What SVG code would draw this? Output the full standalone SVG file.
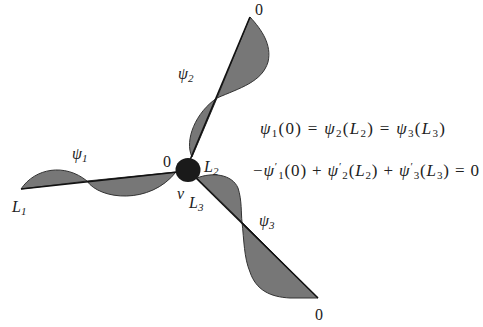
<svg xmlns="http://www.w3.org/2000/svg" width="483" height="327" viewBox="0 0 483 327">
<style>
.lobe{fill:#777;stroke:#333;stroke-width:1}
.edge{stroke:#111;stroke-width:1.6;fill:none}
.t{font-family:"Liberation Serif","DejaVu Serif",serif;font-size:16px;fill:#222}
.eq{font-size:17px}
.i{font-style:italic}
.s{font-size:11px}
</style>
<rect width="483" height="327" fill="#fff"/>
<g id="wave1">
<path class="lobe" d="M21,189 C35,168 65,163 87,181 Z"/>
<path class="lobe" d="M87,181 C100,200 150,205 176,172 Z"/>
</g>
<g id="wave2">
<path class="lobe" d="M192,157 C184,140 196,112 217,98 Z"/>
<path class="lobe" d="M217,98 C240,88 262,82 268,62 C272,45 262,30 250,17 Z"/>
</g>
<g id="wave3">
<path class="lobe" d="M197,178 C212,172 232,174 238,188 C242,200 241,214 242,222 Z"/>
<path class="lobe" d="M242,222 C244,240 244,258 250,272 C256,290 270,297 290,298 L318,298 Z"/>
</g>
<g id="connectors">
<line class="edge" x1="21" y1="189" x2="178" y2="172"/>
<line class="edge" x1="250" y1="17" x2="190" y2="160"/>
<line class="edge" x1="195" y1="177" x2="318" y2="298"/>
</g>
<g id="vertex">
<ellipse cx="188" cy="170" rx="12.5" ry="12" fill="#1a1a1a"/>
</g>
<g id="labels">
<text class="t" x="255" y="15">0</text>
<text class="t" x="163" y="167">0</text>
<text class="t" x="315" y="320">0</text>
<text class="t i" x="178" y="79">ψ<tspan class="s" dy="3">2</tspan></text>
<text class="t i" x="72" y="159">ψ<tspan class="s" dy="3">1</tspan></text>
<text class="t i" x="259" y="226">ψ<tspan class="s" dy="3">3</tspan></text>
<text class="t i" x="12" y="212">L<tspan class="s" dy="3">1</tspan></text>
<text class="t i" x="204" y="172">L<tspan class="s" dy="3">2</tspan></text>
<text class="t i" x="177" y="199">v</text>
<text class="t i" x="189" y="208">L<tspan class="s" dy="3">3</tspan></text>
<text class="t eq" x="260" y="134" textLength="185" lengthAdjust="spacing"><tspan class="i">ψ</tspan><tspan class="s" dy="3">1</tspan><tspan dy="-3">(0) = </tspan><tspan class="i">ψ</tspan><tspan class="s" dy="3">2</tspan><tspan dy="-3">(</tspan><tspan class="i">L</tspan><tspan class="s" dy="3">2</tspan><tspan dy="-3">) = </tspan><tspan class="i">ψ</tspan><tspan class="s" dy="3">3</tspan><tspan dy="-3">(</tspan><tspan class="i">L</tspan><tspan class="s" dy="3">3</tspan><tspan dy="-3">)</tspan></text>
<text class="t eq" x="253" y="176" textLength="226" lengthAdjust="spacing">−<tspan class="i">ψ</tspan><tspan class="s" dy="-6">′</tspan><tspan class="s" dy="9">1</tspan><tspan dy="-3">(0) + </tspan><tspan class="i">ψ</tspan><tspan class="s" dy="-6">′</tspan><tspan class="s" dy="9">2</tspan><tspan dy="-3">(</tspan><tspan class="i">L</tspan><tspan class="s" dy="3">2</tspan><tspan dy="-3">) + </tspan><tspan class="i">ψ</tspan><tspan class="s" dy="-6">′</tspan><tspan class="s" dy="9">3</tspan><tspan dy="-3">(</tspan><tspan class="i">L</tspan><tspan class="s" dy="3">3</tspan><tspan dy="-3">) = 0</tspan></text>
</g>
</svg>
